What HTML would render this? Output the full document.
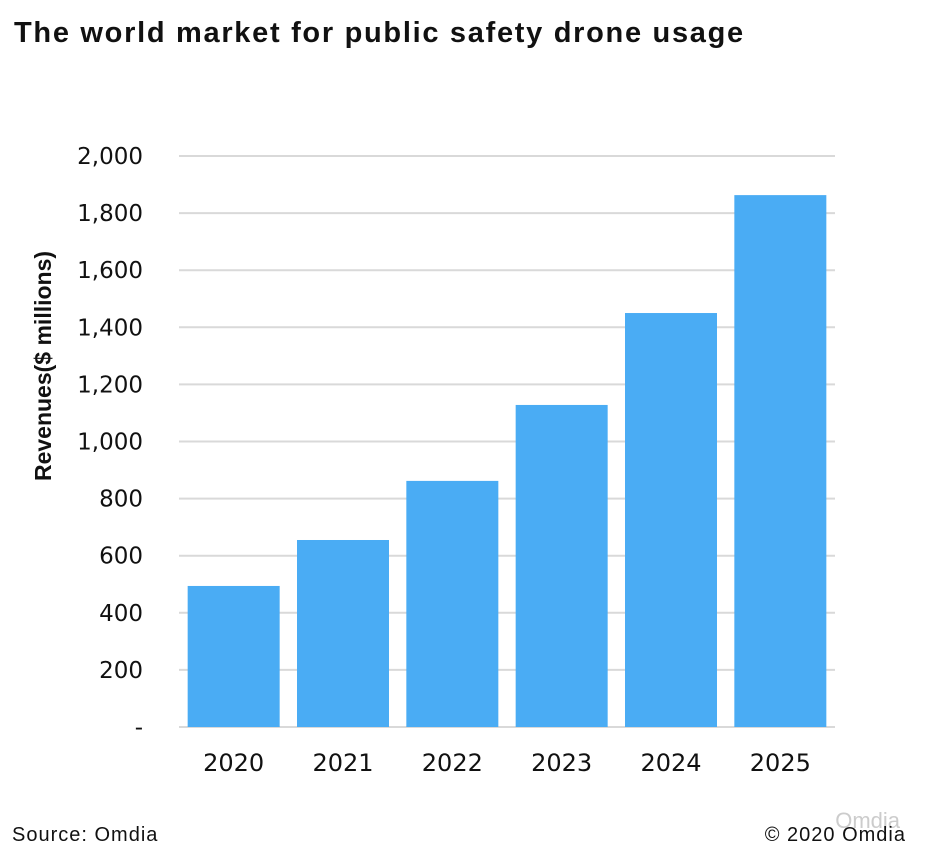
<!DOCTYPE html>
<html><head><meta charset="utf-8">
<style>
html,body{margin:0;padding:0;background:#fff;}
body{width:936px;height:861px;position:relative;overflow:hidden;font-family:"Liberation Sans",sans-serif;}
#title{position:absolute;left:14px;top:17px;font-size:29px;font-weight:bold;color:#111;letter-spacing:1.7px;}
#src{position:absolute;left:12px;top:824px;font-size:20px;color:#111;letter-spacing:1px;}
#copy{position:absolute;right:30px;top:824px;font-size:20px;color:#111;letter-spacing:1px;}
#wm{position:absolute;right:36px;top:808px;font-size:22px;color:#ccc;}
svg{position:absolute;left:0;top:0;}
</style></head>
<body>
<div id="title">The world market for public safety drone usage</div>
<svg id="chart" width="936" height="861"></svg>
<div id="wm">Omdia</div>
<div id="src">Source: Omdia</div>
<div id="copy">© 2020 Omdia</div>
<script>
const categories = ["2020","2021","2022","2023","2024","2025"];
const revenues = [494, 655, 862, 1128, 1450, 1863];
const yTicks = [0,200,400,600,800,1000,1200,1400,1600,1800,2000];
const yTickLabels = ["-","200","400","600","800","1,000","1,200","1,400","1,600","1,800","2,000"];

const NS="http://www.w3.org/2000/svg";
const svg=document.getElementById('chart');
const plotL=179, plotR=835, plotT=156, plotB=727, yMax=2000;
const band=(plotR-plotL)/categories.length;
const barW=92;
const FONT='DejaVu Sans, sans-serif';
function y(v){return plotB-(v/yMax)*(plotB-plotT);}
function x(i){return plotL+band*i+(band-barW)/2;}
function mk(tag,attrs){const e=document.createElementNS(NS,tag);for(const k in attrs)e.setAttribute(k,attrs[k]);svg.appendChild(e);return e;}

yTicks.forEach((t,i)=>{
  const g=mk('line',{x1:plotL,x2:plotR,y1:y(t),y2:y(t),stroke:'#d9d9d9','stroke-width':2});
  
  
  const lb=mk('text',{x:143,y:y(t)+8,'text-anchor':'end','font-size':23,fill:'#111','font-family':FONT});
  lb.textContent=yTickLabels[i];
  
  
});
revenues.forEach((v,i)=>{
  const r=mk('rect',{x:x(i),y:y(v),width:barW,height:plotB-y(v),fill:'#4aacf4'});
  
  
  const t=mk('text',{x:x(i)+barW/2,y:771,'text-anchor':'middle','font-size':24,fill:'#111','font-family':FONT});
  t.textContent=categories[i];
  
  
});
const yt=mk('text',{x:0,y:0,transform:'translate(51,366) rotate(-90)','text-anchor':'middle','font-size':23,'font-weight':'bold',fill:'#111','font-family':'Liberation Sans, sans-serif'});
yt.textContent='Revenues($ millions)';


</script>
</body></html>
